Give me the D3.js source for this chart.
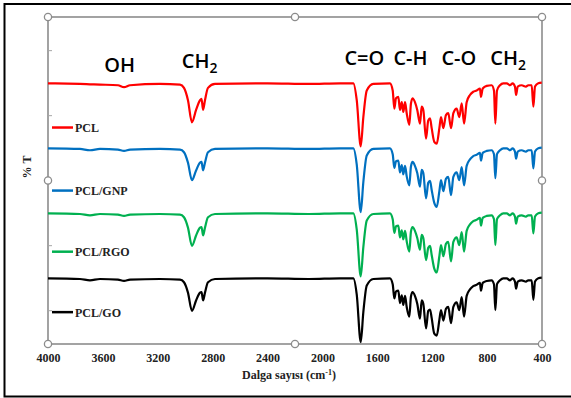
<!DOCTYPE html>
<html>
<head>
<meta charset="utf-8">
<script src="https://cdn.jsdelivr.net/npm/d3@7"></script>
<style>
  body { margin: 0; background: #fff; }
  svg { display: block; }
</style>
</head>
<body>
<svg width="571" height="398"></svg>
<script>
// wavenumbers (cm-1) shared by all four spectra
const waves = [
  4000, 3767, 3694, 3621, 3490, 3446, 3402, 3184, 3038, 3009,
  2980, 2951, 2921, 2892, 2881, 2870, 2856, 2834, 2783, 2400,
  2100, 1872, 1775, 1750, 1721, 1702, 1677, 1629, 1508, 1488,
  1476, 1464, 1447, 1435, 1422, 1411, 1398, 1386, 1367, 1355,
  1343, 1326, 1309, 1289, 1277, 1265, 1245, 1229, 1216, 1204,
  1185, 1167, 1148, 1136, 1119, 1100, 1083, 1063, 1046, 1022,
  1003, 985, 968, 949, 925, 901, 876, 852, 845, 832,
  803, 767, 750, 740, 728, 706, 682, 657, 633, 614,
  597, 589, 577, 548, 517, 500, 475, 463, 451, 427,
  402
];

// %T values, stacked with an offset as in the original chart
const pcl = [
  3.49, 3.48, 3.475, 3.47, 3.46, 3.43, 3.46, 3.48, 3.47, 3.42,
  3.23, 2.89, 3.08, 3.23, 3.25, 3.08, 3.23, 3.42, 3.48, 3.49,
  3.48, 3.49, 3.49, 3.23, 2.52, 2.97, 3.38, 3.48, 3.49, 3.38,
  3.10, 3.26, 3.28, 3.08, 3.20, 3.05, 3.20, 3.03, 2.85, 3.18,
  3.26, 3.20, 3.08, 2.87, 3.13, 3.08, 2.64, 2.92, 2.95, 2.80,
  2.59, 2.56, 2.80, 2.97, 2.80, 3.00, 3.03, 2.80, 3.03, 3.10,
  2.97, 3.18, 2.87, 3.20, 3.31, 3.36, 3.38, 3.41, 3.28, 3.41,
  3.45, 3.46, 3.38, 2.87, 3.38, 3.46, 3.49, 3.49, 3.46, 3.49,
  3.44, 3.31, 3.44, 3.46, 3.44, 3.46, 3.46, 3.13, 3.44, 3.49,
  3.50
];
const pclGnp = [
  2.49, 2.48, 2.46, 2.48, 2.47, 2.45, 2.47, 2.48, 2.47, 2.43,
  2.27, 2.00, 2.15, 2.27, 2.28, 2.15, 2.27, 2.43, 2.48, 2.49,
  2.48, 2.49, 2.49, 2.24, 1.51, 1.97, 2.38, 2.48, 2.49, 2.40,
  2.19, 2.29, 2.30, 2.12, 2.23, 2.09, 2.22, 2.06, 1.92, 2.21,
  2.28, 2.22, 2.11, 1.90, 2.16, 2.11, 1.72, 1.96, 1.99, 1.85,
  1.65, 1.59, 1.83, 2.00, 1.83, 2.02, 2.05, 1.77, 2.05, 2.12,
  2.00, 2.20, 1.92, 2.22, 2.32, 2.37, 2.39, 2.42, 2.30, 2.42,
  2.45, 2.46, 2.40, 2.03, 2.40, 2.46, 2.49, 2.49, 2.46, 2.49,
  2.44, 2.33, 2.44, 2.46, 2.44, 2.46, 2.46, 2.18, 2.44, 2.49,
  2.50
];
const pclRgo = [
  1.49, 1.48, 1.46, 1.48, 1.47, 1.45, 1.47, 1.48, 1.47, 1.43,
  1.27, 0.99, 1.15, 1.27, 1.28, 1.15, 1.27, 1.43, 1.48, 1.49,
  1.48, 1.49, 1.49, 1.24, 0.52, 0.97, 1.38, 1.48, 1.49, 1.40,
  1.19, 1.29, 1.30, 1.12, 1.23, 1.09, 1.22, 1.06, 0.90, 1.21,
  1.28, 1.22, 1.11, 0.93, 1.16, 1.11, 0.77, 0.96, 0.99, 0.85,
  0.64, 0.58, 0.83, 1.00, 0.83, 1.02, 1.05, 0.75, 1.05, 1.12,
  1.00, 1.20, 0.90, 1.22, 1.32, 1.37, 1.39, 1.42, 1.30, 1.42,
  1.45, 1.46, 1.40, 1.00, 1.40, 1.46, 1.49, 1.49, 1.46, 1.49,
  1.44, 1.33, 1.44, 1.46, 1.44, 1.46, 1.46, 1.18, 1.44, 1.49,
  1.50
];
const pclGo = [
  0.49, 0.48, 0.46, 0.48, 0.47, 0.45, 0.47, 0.48, 0.47, 0.43,
  0.27, -0.01, 0.15, 0.27, 0.28, 0.15, 0.27, 0.43, 0.48, 0.49,
  0.48, 0.49, 0.49, 0.24, -0.49, -0.03, 0.38, 0.48, 0.49, 0.40,
  0.18, 0.29, 0.30, 0.11, 0.23, 0.08, 0.22, 0.05, -0.10, 0.21,
  0.28, 0.22, 0.10, -0.13, 0.15, 0.10, -0.28, -0.01, 0.01, -0.12,
  -0.36, -0.39, -0.15, 0.00, -0.16, 0.02, 0.05, -0.20, 0.05, 0.12,
  0.00, 0.20, -0.10, 0.22, 0.32, 0.37, 0.39, 0.42, 0.30, 0.42,
  0.45, 0.46, 0.40, 0.00, 0.40, 0.46, 0.49, 0.49, 0.46, 0.49,
  0.44, 0.33, 0.44, 0.46, 0.44, 0.46, 0.46, 0.16, 0.44, 0.49,
  0.50
];

const seriesNames = ["PCL", "PCL/GNP", "PCL/RGO", "PCL/GO"];
const seriesColors = ["#ff0000", "#0070c0", "#00b050", "#000000"];
const seriesValues = [pcl, pclGnp, pclRgo, pclGo];
// where each legend entry sits, in %T units
const legendLevels = [2.81, 1.84, 0.9, -0.03];

const xTicks = [4000, 3600, 3200, 2800, 2400, 2000, 1600, 1200, 800, 400];
const yTicks = [0, 1, 2, 3, 4];

// band labels: [text, subscript, wavenumber at left edge, %T at baseline]
const bands = [
  ["OH", "", 3590, 3.67],
  ["CH", "2", 3025, 3.72],
  ["C=O", "", 1840, 3.77],
  ["C-H", "", 1483, 3.77],
  ["C-O", "", 1133, 3.77],
  ["CH", "2", 777, 3.77]
];

const svg = d3.select("svg");
const width = +svg.attr("width");
const height = +svg.attr("height");

const x = d3.scaleLinear().domain([4000, 400]).range([48, 542]);
const y = d3.scaleLinear().domain([-0.52, 4.51]).range([344, 17]);

const serif = "'Liberation Serif', 'Times New Roman', serif";
const sans = "'Open Sans', 'Liberation Sans', sans-serif";

svg.append("rect")
    .attr("width", width)
    .attr("height", height)
    .attr("fill", "#fff");

// outer frame of the picture (right side runs off the crop)
svg.append("rect")
    .attr("x", 4.5)
    .attr("y", 4)
    .attr("width", 600)
    .attr("height", 392.5)
    .attr("fill", "none")
    .attr("stroke", "#000")
    .attr("stroke-width", 2);

// plot area box
svg.append("rect")
    .attr("x", x(4000))
    .attr("y", y.range()[1])
    .attr("width", x(400) - x(4000))
    .attr("height", y.range()[0] - y.range()[1])
    .attr("fill", "none")
    .attr("stroke", "#8c8c8c")
    .attr("stroke-width", 1.6);

const yAxis = svg.append("g")
    .attr("transform", `translate(${x(4000)},0)`)
    .call(d3.axisRight(y).tickValues(yTicks).tickSize(4).tickFormat(""));
yAxis.select(".domain").remove();
yAxis.selectAll("line").attr("stroke", "#a6a6a6").attr("stroke-width", 1);

const xAxis = svg.append("g")
    .attr("transform", `translate(0,${y.range()[0]})`)
    .call(d3.axisBottom(x).tickValues(xTicks).tickSize(0).tickPadding(9)
        .tickFormat(d3.format("d")));
xAxis.select(".domain").remove();
xAxis.selectAll("text")
    .attr("font-family", serif)
    .attr("font-weight", "bold")
    .attr("font-size", 12)
    .attr("fill", "#222");

// axis titles
const xTitle = svg.append("text")
    .attr("x", 289)
    .attr("y", 379)
    .attr("text-anchor", "middle")
    .attr("font-family", serif)
    .attr("font-weight", "bold")
    .attr("font-size", 12)
    .attr("fill", "#222");
xTitle.append("tspan").text("Dalga sayısı (cm");
xTitle.append("tspan").attr("dy", -4).attr("font-size", 8).text("-1");
xTitle.append("tspan").attr("dy", 4).text(")");

svg.append("text")
    .attr("transform", "translate(31,167) rotate(-90)")
    .attr("text-anchor", "middle")
    .attr("font-family", serif)
    .attr("font-weight", "bold")
    .attr("font-size", 12)
    .attr("fill", "#222")
    .text("% T");

// spectra
const line = d3.line()
    .x(d => x(d[0]))
    .y(d => y(d[1]))
    .curve(d3.curveMonotoneX);

const linesGroup = svg.append("g")
    .attr("fill", "none")
    .attr("stroke-width", 2.2)
    .attr("stroke-linejoin", "round");

linesGroup.selectAll("path")
    .data(seriesValues)
    .enter().append("path")
    .attr("stroke", (d, i) => seriesColors[i])
    .attr("d", vals => line(waves.map((w, i) => [w, vals[i]])));

// legend, sitting inside the plot on the left
const legend = svg.append("g");
seriesNames.forEach((name, i) => {
    const ly = y(legendLevels[i]);
    legend.append("line")
        .attr("x1", 52)
        .attr("x2", 73)
        .attr("y1", ly)
        .attr("y2", ly)
        .attr("stroke", seriesColors[i])
        .attr("stroke-width", 2.5);
    legend.append("text")
        .attr("x", 75)
        .attr("y", ly + 4.5)
        .attr("font-family", serif)
        .attr("font-weight", "bold")
        .attr("font-size", 12)
        .attr("fill", "#222")
        .text(name);
});

// band annotations
bands.forEach(([label, sub, w, v]) => {
    const t = svg.append("text")
        .attr("x", x(w))
        .attr("y", y(v))
        .attr("font-family", sans)
        .attr("font-weight", 600)
        .attr("font-size", 20)
        .attr("fill", "#000")
        .text(label);
    if (sub) {
        t.append("tspan")
            .attr("dy", 5)
            .attr("font-size", 14)
            .text(sub);
    }
});

// selection handles round the plot area
const hx = [x(4000), (x(4000) + x(400)) / 2, x(400)];
const hy = [y.range()[1], (y.range()[0] + y.range()[1]) / 2, y.range()[0]];
const handles = [];
hx.forEach((px, i) => hy.forEach((py, j) => {
    if (!(i === 1 && j === 1)) handles.push([px, py]);
}));
svg.append("g")
    .selectAll("circle")
    .data(handles)
    .enter().append("circle")
    .attr("cx", d => d[0])
    .attr("cy", d => d[1])
    .attr("r", 3.6)
    .attr("fill", "#fff")
    .attr("stroke", "#8c8c8c")
    .attr("stroke-width", 1.3);
</script>
</body>
</html>
